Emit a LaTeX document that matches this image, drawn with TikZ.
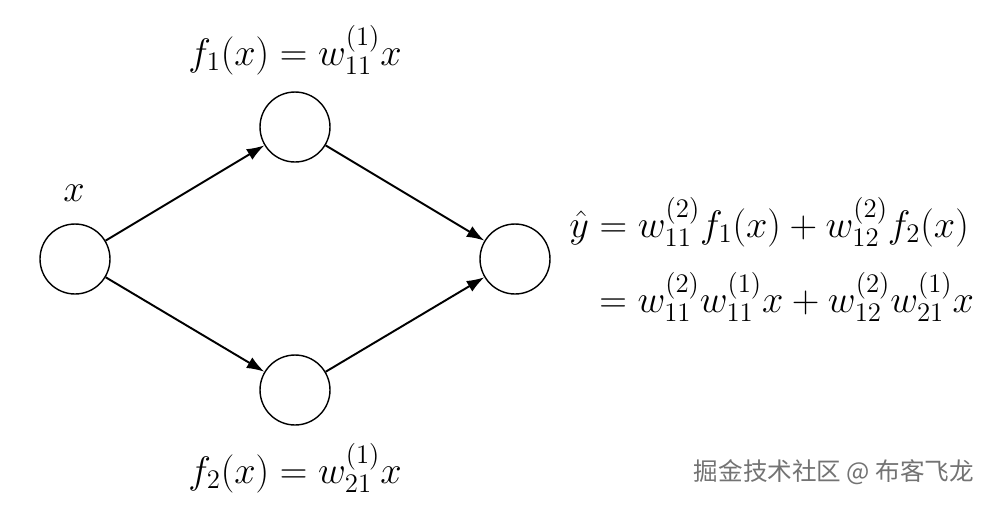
\RequirePackage{fix-cm}
\documentclass[tikz,border=0pt]{standalone}
\usepackage{amsmath}
\usepackage{fontspec}
\newfontfamily\cjk{Noto Sans CJK SC}
\usetikzlibrary{arrows.meta}
\begin{document}
\begin{tikzpicture}[x=0.02cm,y=-0.02cm,
  neuron/.style={circle,draw,line width=0.8pt,minimum size=1.4cm,inner sep=0pt},
  conn/.style={line width=1.1pt,-{Latex[length=10pt,width=7pt]}},
  lbl/.style={font=\fontsize{21.8}{26}\selectfont,inner sep=0pt},
  eqn/.style={font=\fontsize{21.8}{26}\selectfont,inner sep=0pt,anchor=base west}]
\path[use as bounding box] (0,0) rectangle (994,504);
\node[neuron] (in) at (75,259) {};
\node[neuron] (h1) at (295,127) {};
\node[neuron] (h2) at (295,390) {};
\node[neuron] (out) at (515,259) {};
\draw[conn] (in) -- (h1);
\draw[conn] (in) -- (h2);
\draw[conn] (h1) -- (out);
\draw[conn] (h2) -- (out);
\node[lbl] (lx) at (74,193) {$x$};
\node[lbl] (lf1) at (295,50) {$f_1(x) = w_{11}^{(1)}x$};
\node[lbl] (lf2) at (295,468) {$f_2(x) = w_{21}^{(1)}x$};
\node[eqn] (e1) at (569,237) {$\hat{y} = w_{11}^{(2)}f_1(x) + w_{12}^{(2)}f_2(x)$};
\node[eqn] (e2) at (599,312) {$= w_{11}^{(2)}w_{11}^{(1)}x + w_{12}^{(2)}w_{21}^{(1)}x$};
\node[inner sep=0pt,text=black!55,font=\cjk\fontsize{14}{16}\selectfont] (wm) at (834,472) {掘金技术社区 @ 布客飞龙};
\end{tikzpicture}
\end{document}
